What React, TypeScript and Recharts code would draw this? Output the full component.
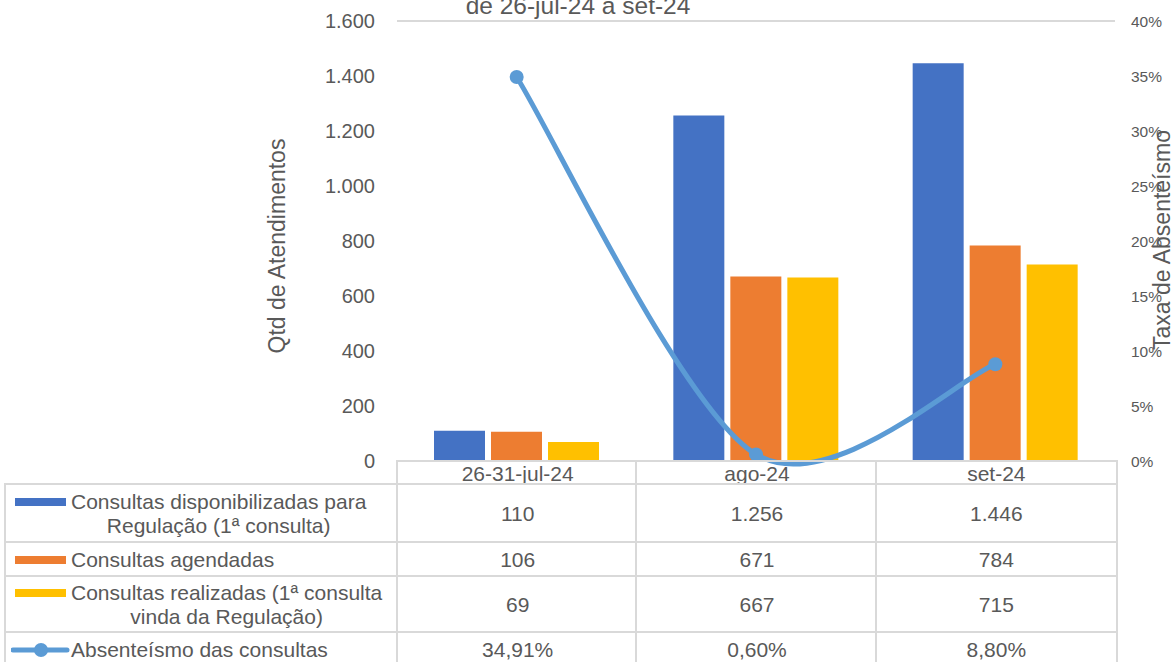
import React from 'react';
import { Bar, CartesianGrid, ComposedChart, Line, XAxis, YAxis } from 'recharts';

const categories = ['26-31-jul-24', 'ago-24', 'set-24'];
const disponibilizadas = [110, 1256, 1446];
const agendadas = [106, 671, 784];
const realizadas = [69, 667, 715];
const absenteismo = [0.3491, 0.006, 0.088];

const leftTicks = [0, 200, 400, 600, 800, 1000, 1200, 1400, 1600];
const rightTicks = [0, 0.05, 0.1, 0.15, 0.2, 0.25, 0.3, 0.35, 0.4];

const TXT = '#595959';
const GRID = '#d9d9d9';
const FONT = '"Liberation Sans", Arial, sans-serif';

const BLUE = '#4472C4';
const ORANGE = '#ED7D31';
const YELLOW = '#FFC000';
const LINE = '#5B9BD5';

const fmtInt = (n: number) => String(n).replace(/\B(?=(\d{3})+(?!\d))/g, '.');
const fmtPct = (v: number) => (v * 100).toFixed(2).replace('.', ',') + '%';

const data = categories.map((name, i) => ({
	name,
	disp: disponibilizadas[i],
	agen: agendadas[i],
	real: realizadas[i],
	abs: absenteismo[i],
}));

// excel-like smoothed line (catmull-rom bezier)
const excelCurve = (context: any) => {
	let pts: number[][] = [];
	return {
		areaStart() {},
		areaEnd() {},
		lineStart() {
			pts = [];
		},
		point(x: number, y: number) {
			pts.push([+x, +y]);
		},
		lineEnd() {
			if (!pts.length) return;
			context.moveTo(pts[0][0], pts[0][1]);
			const k = 6.5;
			for (let i = 0; i < pts.length - 1; i++) {
				const p0 = pts[i - 1] || pts[i];
				const p1 = pts[i];
				const p2 = pts[i + 1];
				const p3 = pts[i + 2] || p2;
				context.bezierCurveTo(
					p1[0] + (p2[0] - p0[0]) / k,
					p1[1] + (p2[1] - p0[1]) / k,
					p2[0] - (p3[0] - p1[0]) / k,
					p2[1] - (p3[1] - p1[1]) / k,
					p2[0],
					p2[1],
				);
			}
		},
	};
};

const PLOT_L = 397;
const PLOT_R = 1115;
const PLOT_B = 461;
const colW = (PLOT_R - PLOT_L) / categories.length;

const rows = [
	{ label: 'Consultas disponibilizadas para\nRegulação (1ª consulta)', values: disponibilizadas.map(fmtInt), color: BLUE, kind: 'bar', top: 484, h: 58 },
	{ label: 'Consultas agendadas', values: agendadas.map(fmtInt), color: ORANGE, kind: 'bar', top: 542, h: 34 },
	{ label: 'Consultas realizadas (1ª consulta\nvinda da Regulação)', values: realizadas.map(fmtInt), color: YELLOW, kind: 'bar', top: 576, h: 56 },
	{ label: 'Absenteísmo das consultas', values: absenteismo.map(fmtPct), color: LINE, kind: 'line', top: 632, h: 34 },
];

const border = `2px solid ${GRID}`;

const DataTable = () => (
	<div style={{ position: 'absolute', left: 0, top: 0, width: 1174, height: 662, fontFamily: FONT, color: TXT, fontSize: 21, pointerEvents: 'none' }}>
		{/* header row */}
		{categories.map((c, i) => (
			<div
				key={c}
				style={{
					position: 'absolute',
					left: PLOT_L + i * colW - 1,
					top: PLOT_B - 1,
					width: colW,
					height: 484 - PLOT_B,
					borderLeft: border,
					borderTop: border,
					borderRight: i === categories.length - 1 ? border : 'none',
					display: 'flex',
					alignItems: 'center',
					justifyContent: 'center',
					lineHeight: '22px',
				}}
			>
				{c}
			</div>
		))}
		{rows.map((r) => (
			<React.Fragment key={r.label}>
				<div
					style={{
						position: 'absolute',
						left: 4,
						top: r.top - 1,
						width: PLOT_L - 5,
						height: r.h,
						borderLeft: border,
						borderTop: border,
						display: 'flex',
						alignItems: 'center',
					}}
				>
					<div style={{ display: 'flex', alignItems: 'flex-start' }}>
						<svg width={60} height={24} style={{ marginLeft: 5, flex: 'none' }}>
							{r.kind === 'bar' ? (
								<rect x={4} y={8} width={51} height={8} fill={r.color} />
							) : (
								<g>
									<line x1={2} y1={12} x2={56} y2={12} stroke={r.color} strokeWidth={5} strokeLinecap="round" />
									<circle cx={30} cy={12} r={7} fill={r.color} />
								</g>
							)}
						</svg>
						<div style={{ display: 'inline-block', textAlign: 'center', whiteSpace: 'pre-line', lineHeight: '24px', marginLeft: 0 }}>
							{r.label}
						</div>
					</div>
				</div>
				{r.values.map((v, i) => (
					<div
						key={i}
						style={{
							position: 'absolute',
							left: PLOT_L + i * colW - 1,
							top: r.top - 1,
							width: colW,
							height: r.h,
							borderLeft: border,
							borderTop: border,
							borderRight: i === r.values.length - 1 ? border : 'none',
							display: 'flex',
							alignItems: 'center',
							justifyContent: 'center',
						}}
					>
						{v}
					</div>
				))}
			</React.Fragment>
		))}
	</div>
);

const Titles = () => (
	<svg width={1174} height={662} style={{ position: 'absolute', left: 0, top: 0, pointerEvents: 'none' }}>
		<text x={578} y={14} textAnchor="middle" fontFamily={FONT} fontSize={24.5} fill={TXT}>
			de 26-jul-24 a set-24
		</text>
		<text
			x={0}
			y={0}
			transform="translate(285 246) rotate(-90)"
			textAnchor="middle"
			fontFamily={FONT}
			fontSize={23}
			fill={TXT}
		>
			Qtd de Atendimentos
		</text>
		<text
			x={0}
			y={0}
			transform="translate(1170 240) rotate(-90)"
			textAnchor="middle"
			fontFamily={FONT}
			fontSize={23}
			fill={TXT}
		>
			Taxa de Absenteísmo
		</text>
	</svg>
);

export default function App() {
	return (
		<div style={{ position: 'absolute', left: 0, top: 0, width: 1174, height: 662, overflow: 'hidden', background: '#fff' }}>
			<ComposedChart
				width={1174}
				height={662}
				data={data}
				margin={{ top: 21, right: 0, bottom: 662 - PLOT_B, left: 0 }}
				barGap={6}
			>
				<CartesianGrid horizontal vertical={false} stroke={GRID} strokeWidth={2} />
				<XAxis dataKey="name" hide />
				<YAxis
					yAxisId="left"
					width={PLOT_L}
					domain={[0, 1600]}
					ticks={leftTicks}
					tickFormatter={fmtInt}
					axisLine={false}
					tickLine={false}
					tickSize={0}
					tickMargin={22}
					tick={{ fill: TXT, fontSize: 20, fontFamily: FONT }}
				/>
				<YAxis
					yAxisId="right"
					orientation="right"
					width={1174 - PLOT_R}
					domain={[0, 0.4]}
					ticks={rightTicks}
					tickFormatter={(v: number) => `${Math.round(v * 100)}%`}
					axisLine={false}
					tickLine={false}
					tickSize={0}
					tickMargin={16}
					tick={{ fill: TXT, fontSize: 15.5, fontFamily: FONT }}
				/>
				<Bar yAxisId="left" dataKey="disp" fill={BLUE} barSize={51} isAnimationActive={false} />
				<Bar yAxisId="left" dataKey="agen" fill={ORANGE} barSize={51} isAnimationActive={false} />
				<Bar yAxisId="left" dataKey="real" fill={YELLOW} barSize={51} isAnimationActive={false} />
				<Line
					yAxisId="right"
					dataKey="abs"
					type={excelCurve as any}
					stroke={LINE}
					strokeWidth={5}
					dot={{ r: 7, fill: LINE, stroke: 'none' }}
					activeDot={false}
					isAnimationActive={false}
				/>
			</ComposedChart>
			<DataTable />
			<Titles />
		</div>
	);
}
